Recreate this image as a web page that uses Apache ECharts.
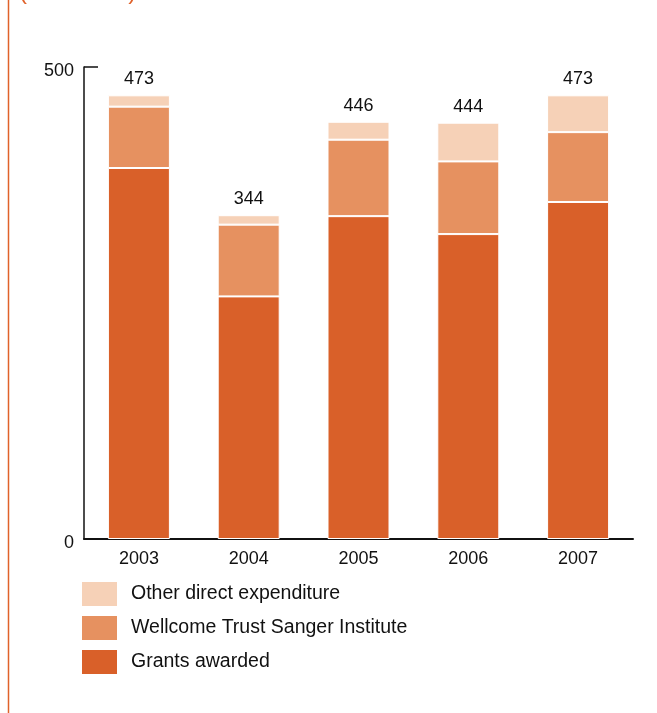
<!DOCTYPE html>
<html>
<head>
<meta charset="utf-8">
<script src="https://cdn.jsdelivr.net/npm/echarts@6/dist/echarts.min.js"></script>
<style>
  html, body { margin: 0; padding: 0; background: #fff; }
  #chart { width: 657px; height: 713px; }
</style>
</head>
<body>
<div id="chart"></div>
<script>
// years on the x axis
var years = ['2003', '2004', '2005', '2006', '2007'];
// stacked segment heights (£ million)
var grants = [393, 257, 342, 323, 357];
var sanger = [65, 76, 81, 77, 74];
var other = [12, 10, 19, 41, 39];
// totals as printed above each bar
var totals = [473, 344, 446, 444, 473];
var yTicks = [0, 500];

var txt = '#111';
var font = 'Liberation Sans, Arial, Helvetica, sans-serif';

var chart = echarts.init(document.getElementById('chart'));

function seg(name, data, color, isTop) {
  var s = {
    name: name,
    type: 'bar',
    stack: 'total',
    data: data,
    barWidth: 62,
    itemStyle: { color: color, borderColor: '#fff', borderWidth: 1 }
  };
  if (isTop) {
    s.label = {
      show: true,
      position: 'top',
      distance: 7,
      color: txt,
      fontSize: 18,
      fontFamily: font,
      formatter: function (p) { return totals[p.dataIndex]; }
    };
  }
  return s;
}

var option = {
  animation: false,
  backgroundColor: '#fff',
  graphic: [
    { type: 'line', shape: { x1: 8.5, y1: 0, x2: 8.5, y2: 713 },
      style: { stroke: '#e0622a', lineWidth: 1.5 } },
    { type: 'text', left: 19, top: -20,
      style: { text: '(£  million )', fill: '#e0622a', fontSize: 24, fontFamily: font } }
  ],
  grid: { left: 84, right: 24, top: 67, bottom: 174 },
  legend: {
    orient: 'vertical',
    left: 77,
    top: 577,
    itemWidth: 35,
    itemHeight: 24,
    itemGap: 10,
    icon: 'rect',
    data: ['Other direct expenditure', 'Wellcome Trust Sanger Institute', 'Grants awarded'],
    textStyle: { color: txt, fontSize: 19.5, fontFamily: font, padding: [0, 0, 0, 9] },
    itemStyle: { borderWidth: 0 }
  },
  xAxis: {
    type: 'category',
    data: years,
    axisLine: { lineStyle: { color: '#111', width: 2 } },
    axisTick: { show: false },
    axisLabel: { color: txt, fontSize: 18, fontFamily: font, margin: 11 }
  },
  yAxis: {
    type: 'value',
    min: yTicks[0],
    max: yTicks[1],
    interval: yTicks[1] - yTicks[0],
    splitLine: { show: false },
    axisLine: { show: true, lineStyle: { color: '#111', width: 1.5 } },
    axisTick: { show: true, inside: true, length: 14, lineStyle: { color: '#111', width: 1.5 } },
    axisLabel: { color: txt, fontSize: 18, fontFamily: font, margin: 10,
      formatter: function (v) { return yTicks.indexOf(v) >= 0 ? '{v|' + v + '}' : ''; },
      rich: { v: { color: txt, fontSize: 18, fontFamily: font, padding: [9, 0, 0, 0] } } }
  },
  series: [
    seg('Grants awarded', grants, '#d96029', false),
    seg('Wellcome Trust Sanger Institute', sanger, '#e69160', false),
    seg('Other direct expenditure', other, '#f6d1b7', true)
  ]
};

chart.setOption(option);
</script>
</body>
</html>
